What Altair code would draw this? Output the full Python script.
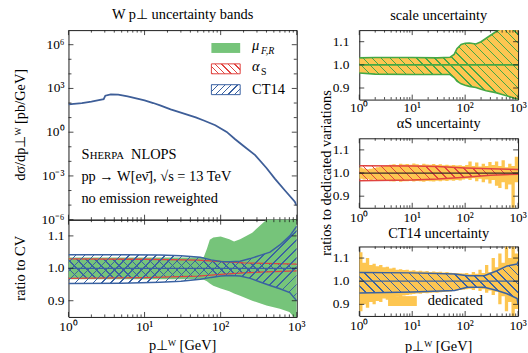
import math
import altair as alt
import pandas as pd

FONT = "Liberation Serif"
FS = 14.5
LFS = 13.5
FRAME = "#1c1c1c"
GREEN = "#76c47a"
GREEN_EDGE = "#45a845"
RED = "#e0433f"
BLUE = "#3a62a2"
ORANGE = "#fdc651"
CURVE = "#3e5e98"

LW, TH, RH = 230, 191, 98
RW, PH, GAP = 160, 70, 39
YLO, YHI = 0.85, 1.15

# ---------------- data ----------------
pt_main = [1.0, 1.5, 2.0, 2.5, 2.9, 3.05, 3.6, 4.5, 6.0, 8.0, 10.0, 13.0, 16.0, 22.0,
           30.0, 47.0, 60.0, 85.0, 120.0, 155.0, 200.0, 284.0, 400.0, 518.0, 700.0, 943.0, 1000.0]
dsig = [81, 100, 126, 160, 182, 320, 398, 380, 282, 200, 151, 100, 69, 37,
        22, 10.5, 6.3, 3.0, 1.05, 0.33, 0.112, 0.027, 0.0035, 6.3e-4, 1.0e-4, 1.7e-5, 9.1e-6]

# ratio to CV (left lower panel)
pt_mu = [1, 10, 40, 60, 66, 72, 80, 100, 130, 150, 180, 260, 400, 600, 800, 1000]
mu_up = [1.033, 1.033, 1.033, 1.035, 1.06, 1.088, 1.095, 1.098, 1.09, 1.083, 1.09, 1.11, 1.15, 1.2, 1.2, 1.2]
mu_lo = [0.966, 0.966, 0.966, 0.965, 0.96, 0.953, 0.946, 0.938, 0.929, 0.922, 0.915, 0.9, 0.885, 0.875, 0.865, 0.84]

pt_as = [1, 10, 50, 100, 200, 400, 1000]
as_up = [1.029, 1.028, 1.025, 1.021, 1.017, 1.015, 1.013]
as_lo = [0.969, 0.971, 0.976, 0.981, 0.986, 0.989, 0.992]

pt_ct = [1, 5, 16, 30, 54, 75, 100, 135, 180, 245, 330, 445, 600, 810, 1000]
ct_up = [1.042, 1.042, 1.041, 1.039, 1.034, 1.026, 1.021, 1.02, 1.022, 1.03, 1.04, 1.05, 1.072, 1.1, 1.13]
ct_lo = [0.953, 0.954, 0.957, 0.96, 0.966, 0.972, 0.976, 0.978, 0.976, 0.969, 0.958, 0.947, 0.937, 0.925, 0.9]

# ratios to dedicated variations (right panels)
pt_sc = [1, 2, 10, 30, 52, 62, 70, 84, 100, 120, 160, 200, 250, 380, 500, 700, 1000]
sc_up = [1.03, 1.032, 1.032, 1.03, 1.033, 1.045, 1.07, 1.088, 1.093, 1.094, 1.09, 1.1, 1.115, 1.143, 1.16, 1.18, 1.2]
sc_lo = [0.965, 0.96, 0.958, 0.958, 0.958, 0.945, 0.93, 0.918, 0.912, 0.907, 0.902, 0.895, 0.888, 0.88, 0.872, 0.862, 0.85]

pt_asr = [1, 10, 30, 100, 300, 1000]
asr_up = [1.031, 1.03, 1.028, 1.022, 1.018, 1.015]
asr_lo = [0.967, 0.97, 0.974, 0.982, 0.99, 0.995]

pt_ctr = [1, 10, 63, 110, 230, 400, 620, 960, 1000]
ctr_up = [1.038, 1.036, 1.031, 1.024, 1.024, 1.045, 1.066, 1.074, 1.085]
ctr_lo = [0.949, 0.953, 0.96, 0.974, 0.974, 0.96, 0.946, 0.925, 0.9]

pt_bins = [1.00, 1.15, 1.33, 1.54, 1.78, 2.05, 2.37, 2.74, 3.16, 3.65, 4.22, 4.87, 5.62, 6.49, 7.50, 8.66,
           10.0, 11.5, 13.3, 15.4, 17.8, 20.5, 23.7, 27.4, 31.6, 36.5, 42.2, 48.7, 56.2, 64.9, 75.0, 86.6,
           100, 115, 133, 154, 178, 205, 237, 274, 316, 365, 422, 487, 562, 649, 750, 866, 1000]
ded_as_up = [1.024, 1.02, 1.016, 1.018, 1.022, 1.025, 1.027, 1.03, 1.032, 1.036, 1.038, 1.035, 1.04, 1.037, 1.039, 1.036,
             1.041, 1.038, 1.035, 1.04, 1.037, 1.036, 1.039, 1.035, 1.038, 1.034, 1.036, 1.033, 1.035, 1.032, 1.034, 1.03,
             1.035, 1.05, 1.03, 1.045, 1.028, 1.04, 1.03, 1.048, 1.035, 1.05, 1.03, 1.055, 1.025, 1.04, 1.03, 1.07]
ded_as_lo = [0.975, 0.972, 0.974, 0.97, 0.972, 0.968, 0.97, 0.967, 0.966, 0.965, 0.963, 0.966, 0.962, 0.965, 0.964, 0.967,
             0.963, 0.966, 0.964, 0.962, 0.966, 0.965, 0.963, 0.967, 0.965, 0.968, 0.966, 0.969, 0.967, 0.97, 0.968, 0.972,
             0.975, 0.97, 0.978, 0.965, 0.975, 0.96, 0.972, 0.955, 0.97, 0.945, 0.935, 0.96, 0.93, 0.95, 0.84, 0.96]
ded_ct_up = [1.125, 1.08, 1.1, 1.07, 1.075, 1.065, 1.07, 1.06, 1.062, 1.055, 1.058, 1.05, 1.052, 1.048, 1.05, 1.045,
             1.047, 1.043, 1.045, 1.042, 1.044, 1.04, 1.042, 1.04, 1.041, 1.038, 1.04, 1.037, 1.036, 1.035, 1.034, 1.033,
             1.035, 1.03, 1.04, 1.032, 1.05, 1.035, 1.07, 1.04, 1.1, 1.06, 1.12, 1.08, 1.15, 1.1, 1.15, 1.12]
ded_ct_lo = [0.87, 0.9, 0.885, 0.91, 0.9, 0.915, 0.91, 0.925, 0.92, 0.93, 0.928, 0.935, 0.932, 0.938, 0.94, 0.943,
             0.945, 0.947, 0.946, 0.949, 0.948, 0.95, 0.951, 0.95, 0.952, 0.953, 0.955, 0.956, 0.958, 0.96, 0.962, 0.963,
             0.965, 0.968, 0.962, 0.97, 0.958, 0.965, 0.95, 0.96, 0.94, 0.955, 0.9, 0.935, 0.87, 0.91, 0.85, 0.88]

# axis ticks and labels
X_MAJOR = [1, 10, 100, 1000]
X_LABELS = ["10⁰", "10¹", "10²", "10³"]
X_MINOR = [2, 3, 4, 5, 6, 7, 8, 9, 20, 30, 40, 50, 60, 70, 80, 90, 200, 300, 400, 500, 600, 700, 800, 900]
Y_MAIN_MAJOR = [1e-6, 1e-3, 1.0, 1e3, 1e6]
Y_MAIN_LABELS = ["10⁻⁶", "10⁻³", "10⁰", "10³", "10⁶"]
Y_MAIN_MINOR = [1e-5, 1e-4, 1e-2, 1e-1, 1e1, 1e2, 1e4, 1e5]
Y_RATIO = [0.9, 1.0, 1.1]
Y_RATIO_LABELS = ["0.9", "1.0", "1.1"]

ONE = pd.DataFrame({"k": [0]})

xs = alt.Scale(type="log", domain=[1, 1000], nice=False)
ys_main = alt.Scale(type="log", domain=[1e-6, 1e7], nice=False)
ys_r = alt.Scale(domain=[YLO, YHI], nice=False, zero=False)


def hatch(W, H, color, kind, period=9.0, lw=1.0):
    bg = "rgba(255,255,255,0)"
    s = (W * W + H * H) / (W + H)
    du, dv = W / s, H / s
    if kind == "/":
        x1, y1, x2, y2 = 0, 0, du, dv
    else:
        x1, y1, x2, y2 = 0, 1, du, 1 - dv
    total = W + H
    f = period / total
    g = lw * math.sqrt(2) / total
    stops = []
    i = 0
    while i * f < 1:
        a0 = i * f
        a1 = min(a0 + g, 1)
        a2 = min(a0 + f, 1)
        stops += [alt.GradientStop(color=color, offset=a0), alt.GradientStop(color=color, offset=a1),
                  alt.GradientStop(color=bg, offset=a1), alt.GradientStop(color=bg, offset=a2)]
        i += 1
    return alt.LinearGradient(gradient="linear", stops=stops, x1=x1, y1=y1, x2=x2, y2=y2)


def band_h(up, lo, H):
    return (max(up) - min(lo)) * H / (YHI - YLO)


def bdf(pt, up, lo):
    return pd.DataFrame({"pt": pt, "up": up, "lo": lo})


def sdf(edges, up, lo):
    return pd.DataFrame({"pt": edges, "up": up + [up[-1]], "lo": lo + [lo[-1]]})


def area(df, fill, ys=ys_r, **mk):
    return alt.Chart(df).mark_area(color=fill, clip=True, **mk).encode(
        x=alt.X("pt:Q", scale=xs, axis=None), y=alt.Y("up:Q", scale=ys, axis=None), y2=alt.Y2("lo:Q"))


def lines(df, color, sw=1.4):
    out = []
    for col in ("up", "lo"):
        out.append(alt.Chart(df).mark_line(color=color, strokeWidth=sw, clip=True).encode(
            x=alt.X("pt:Q", scale=xs, axis=None), y=alt.Y(f"{col}:Q", scale=ys_r, axis=None)))
    return out


def hline(color, sw=1.4):
    return alt.Chart(pd.DataFrame({"y": [1.0]})).mark_rule(color=color, strokeWidth=sw).encode(
        y=alt.Y("y:Q", scale=ys_r, axis=None))


def ticks(W, H, ys, ymaj, ymin=None):
    out = []
    for vals, L in ((X_MAJOR, 5), (X_MINOR, 2.5)):
        df = pd.DataFrame({"v": vals})
        for ya, yb in ((H, H - L), (0, L)):
            out.append(alt.Chart(df).mark_rule(color=FRAME, strokeWidth=0.8).encode(
                x=alt.X("v:Q", scale=xs, axis=None), y=alt.value(ya), y2=alt.value(yb)))
    groups = [(ymaj, 5)] + ([(ymin, 3)] if ymin else [])
    for vals, L in groups:
        df = pd.DataFrame({"v": vals})
        for xa, xb in ((0, L), (W, W - L)):
            out.append(alt.Chart(df).mark_rule(color=FRAME, strokeWidth=0.8).encode(
                y=alt.Y("v:Q", scale=ys, axis=None), x=alt.value(xa), x2=alt.value(xb)))
    return out


def xlabels(H, pad=3):
    df = pd.DataFrame({"v": X_MAJOR, "t": X_LABELS})
    return alt.Chart(df).mark_text(font=FONT, fontSize=LFS, align="center", baseline="top", color="black").encode(
        x=alt.X("v:Q", scale=xs, axis=None), y=alt.value(H + pad), text="t:N")


def ylabels(vals, labels, ys, pad):
    df = pd.DataFrame({"v": vals, "t": labels})
    return alt.Chart(df).mark_text(font=FONT, fontSize=LFS, align="right", baseline="middle", color="black").encode(
        y=alt.Y("v:Q", scale=ys, axis=None), x=alt.value(-pad), text="t:N")


def text(s, x, y, size=FS, **kw):
    return alt.Chart(ONE).mark_text(text=s, font=FONT, fontSize=size, align="left", baseline="alphabetic",
                                    color="black", **kw).encode(x=alt.value(x), y=alt.value(y))


def ctext(s, x, y, angle=0, size=FS):
    return alt.Chart(ONE).mark_text(text=s, font=FONT, fontSize=size, align="center", baseline="alphabetic",
                                    color="black", angle=angle).encode(x=alt.value(x), y=alt.value(y))


def rect(x, x2, y, y2, **mk):
    return alt.Chart(ONE).mark_rect(**mk).encode(x=alt.value(x), x2=alt.value(x2), y=alt.value(y), y2=alt.value(y2))


def ttl(s, off=6):
    return alt.Title(s, font=FONT, fontSize=FS, fontWeight="normal", color="black", offset=off)


# ---------------- left top: distribution ----------------
main_line = alt.Chart(pd.DataFrame({"pt": pt_main, "ds": dsig})).mark_line(
    color=CURVE, strokeWidth=1.8, clip=True).encode(
    x=alt.X("pt:Q", scale=xs, axis=None), y=alt.Y("ds:Q", scale=ys_main, axis=None))

legend = [
    rect(144, 173, 13, 23, color=GREEN),
    rect(144, 173, 34, 44, color=hatch(29, 10, RED, "\\", period=6.5), stroke=RED, strokeWidth=1),
    rect(144, 173, 55, 65, color=hatch(29, 10, BLUE, "/", period=6.5), stroke=BLUE, strokeWidth=1),
    text("μ", 185, 20.5, fontStyle="italic"),
    text("F,R", 194, 24, size=10, fontStyle="italic"),
    text("α", 185, 41.5, fontStyle="italic"),
    text("S", 194, 45, size=10),
    text("CT14", 185, 64.5),
]
notes = [
    text("S", 13, 130),
    text("HERPA", 21.5, 130, size=10.8),
    text("NLOPS", 63, 130),
    text("pp → W[eν̄], √s = 13 TeV", 13, 152),
    text("no emission reweighted", 13, 174),
]
top_left = alt.layer(
    main_line, *legend, *notes,
    ylabels(Y_MAIN_MAJOR, Y_MAIN_LABELS, ys_main, 4),
    ctext("dσ/dp⊥ᵂ [pb/GeV]", -44, TH / 2, angle=270),
    *ticks(LW, TH, ys_main, Y_MAIN_MAJOR, Y_MAIN_MINOR),
).properties(width=LW, height=TH, title=ttl("W p⊥ uncertainty bands", 7))

# ---------------- left bottom: ratio to CV ----------------
d_mu, d_as, d_ct = bdf(pt_mu, mu_up, mu_lo), bdf(pt_as, as_up, as_lo), bdf(pt_ct, ct_up, ct_lo)
ratio_left = alt.layer(
    area(d_mu, GREEN),
    area(d_as, hatch(LW, band_h(as_up, as_lo, RH), BLUE, "\\")),
    *lines(d_as, RED, 1.3),
    area(d_ct, hatch(LW, band_h(ct_up, ct_lo, RH), BLUE, "/")),
    *lines(d_ct, BLUE, 1.5),
    hline(BLUE, 1.2),
    ylabels(Y_RATIO, Y_RATIO_LABELS, ys_r, 4),
    xlabels(RH, 3),
    ctext("ratio to CV", -44, RH / 2, angle=270),
    ctext("p⊥ᵂ [GeV]", LW / 2, RH + 33),
    *ticks(LW, RH, ys_r, Y_RATIO),
).properties(width=LW, height=RH)

# ---------------- right panels ----------------
d_sc = bdf(pt_sc, sc_up, sc_lo)
r_top = alt.layer(
    area(d_sc, ORANGE),
    area(d_sc, hatch(RW, band_h(sc_up, sc_lo, PH), GREEN_EDGE, "\\")),
    *lines(d_sc, GREEN_EDGE, 1.6),
    hline(GREEN_EDGE, 1.6),
    ylabels(Y_RATIO, Y_RATIO_LABELS, ys_r, 10),
    xlabels(PH, 2),
    # shared title of the right column, centred on the middle panel
    ctext("ratios to dedicated variations", -28, PH + GAP + PH / 2, angle=270),
    *ticks(RW, PH, ys_r, Y_RATIO),
).properties(width=RW, height=PH, title=ttl("scale uncertainty", 6))

d_asr = bdf(pt_asr, asr_up, asr_lo)
r_mid = alt.layer(
    area(sdf(pt_bins, ded_as_up, ded_as_lo), ORANGE, interpolate="step-after"),
    area(d_asr, hatch(RW, band_h(asr_up, asr_lo, PH), RED, "\\")),
    *lines(d_asr, RED, 1.5),
    hline("#3a2a2a", 1.3),
    ylabels(Y_RATIO, Y_RATIO_LABELS, ys_r, 10),
    xlabels(PH, 3),
    *ticks(RW, PH, ys_r, Y_RATIO),
).properties(width=RW, height=PH, title=ttl("αS uncertainty", 6))

d_ctr = bdf(pt_ctr, ctr_up, ctr_lo)
r_bot = alt.layer(
    area(sdf(pt_bins, ded_ct_up, ded_ct_lo), ORANGE, interpolate="step-after"),
    area(d_ctr, hatch(RW, band_h(ctr_up, ctr_lo, PH), BLUE, "\\")),
    *lines(d_ctr, BLUE, 1.5),
    hline(BLUE, 1.3),
    rect(29, 58, 50, 60, color=ORANGE),
    text("dedicated", 69, 59),
    ylabels(Y_RATIO, Y_RATIO_LABELS, ys_r, 10),
    xlabels(PH, 3),
    ctext("p⊥ᵂ [GeV]", RW / 2, PH + 35),
    *ticks(RW, PH, ys_r, Y_RATIO),
).properties(width=RW, height=PH, title=ttl("CT14 uncertainty", 5))

left_col = alt.vconcat(top_left, ratio_left, spacing=0, bounds="flush")
right_col = alt.vconcat(r_top, r_mid, r_bot, spacing=GAP, bounds="flush")

chart = alt.hconcat(left_col, right_col, spacing=12).properties(
    padding={"left": 12, "top": 5, "right": 0, "bottom": 0}
).configure_view(stroke=FRAME, strokeWidth=1).configure_title(
    font=FONT, fontSize=FS, fontWeight="normal", anchor="middle", color="black")

chart.save("out.html", embed_options={"renderer": "svg", "actions": False})
